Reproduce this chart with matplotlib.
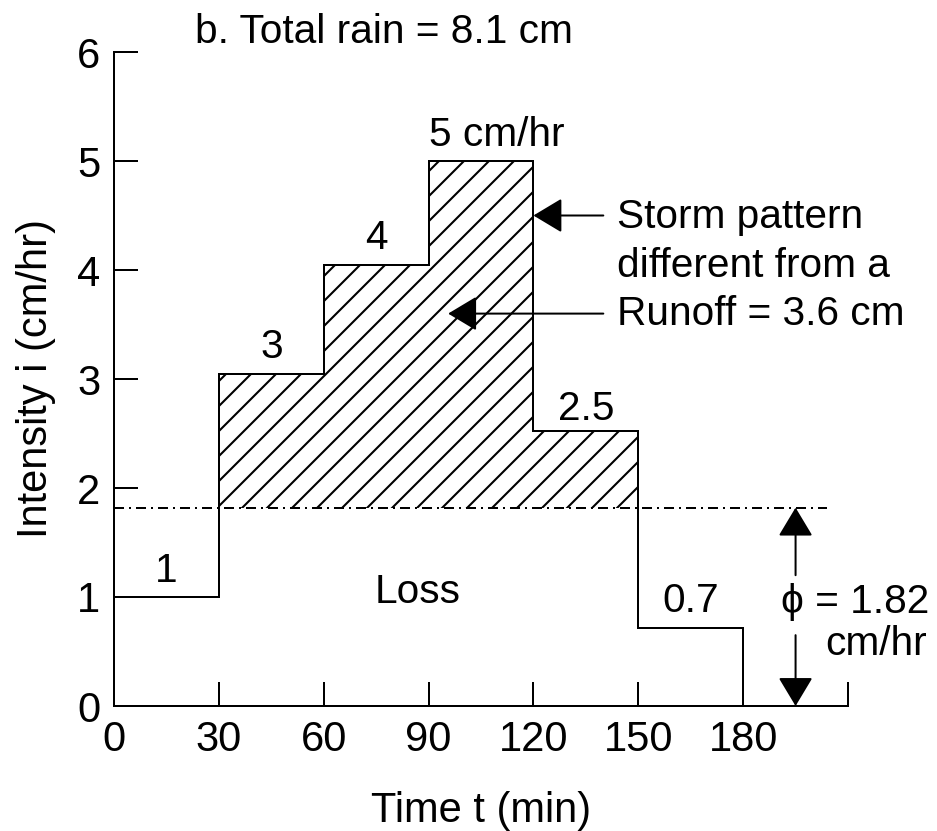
import matplotlib
matplotlib.use('Agg')
import matplotlib.pyplot as plt

plt.rcParams['font.family'] = ['Liberation Sans', 'DejaVu Sans']
plt.rcParams['hatch.linewidth'] = 1.0

# hyetograph (30 min blocks)
t_edges = [0, 30, 60, 90, 120, 150, 180]
intensity = [1.0, 3.05, 4.05, 5.0, 2.52, 0.72]
step_labels = ['1', '3', '4', '5 cm/hr', '2.5', '0.7']
phi = 1.82
total_rain = 8.1
runoff = 3.6

xticks = [0, 30, 60, 90, 120, 150, 180, 210]
xtick_labels = ['0', '30', '60', '90', '120', '150', '180', '']
yticks = [0, 1, 2, 3, 4, 5, 6]

lw = 0.96
fs = 19.5

fig = plt.figure(figsize=(937/150, 831/150), dpi=150)
ax = fig.add_axes([114/937, 125/831, 734/937, 654/831])

ax.stairs(intensity, t_edges, baseline=0, color='k', lw=lw)

# hatched part above phi index
above = [i for i, v in enumerate(intensity) if v > phi]
xs = t_edges[above[0]:above[-1] + 2]
ys = intensity[above[0]:above[-1] + 1] + [intensity[above[-1]]]
ax.fill_between(xs, phi, ys, step='post', facecolor='none', edgecolor='k',
                hatch='//', lw=0)

ax.plot([0, 204], [phi, phi], color='k', lw=lw, ls=(0, (5, 2.5, 1, 2.5)))

# labels on each block
dx = [0, 0, 0, -15, 0, 0]
has = ['center', 'center', 'center', 'left', 'center', 'center']
for i, lab in enumerate(step_labels):
    xm = (t_edges[i] + t_edges[i+1]) / 2 + dx[i]
    off = 0.1 if lab == '2.5' else 0.14
    ax.text(xm, intensity[i] + off, lab, ha=has[i], va='baseline', fontsize=fs)

ax.text(87, 0.945, 'Loss', ha='center', va='baseline', fontsize=fs)
ax.text(77.3, 6.083, f'b. Total rain = {total_rain} cm', ha='center',
        va='baseline', fontsize=fs)

arrow = dict(arrowstyle='-|>,head_length=0.6,head_width=0.36', color='k',
             lw=lw, shrinkA=0, shrinkB=0, mutation_scale=20)
ax.annotate('', xy=(120, 4.5), xytext=(140, 4.5), arrowprops=arrow)
ax.annotate('', xy=(95.6, runoff), xytext=(140, runoff), arrowprops=arrow)
storm_lines = ['Storm pattern', 'different from a', f'Runoff = {runoff} cm']
for k, s in enumerate(storm_lines):
    ax.text(144, 4.385 - 0.445 * k, s, ha='left', va='baseline', fontsize=fs)

# phi dimension arrow
ax.annotate('', xy=(195, phi), xytext=(195, 1.2), arrowprops=arrow)
ax.annotate('', xy=(195, 0), xytext=(195, 0.65), arrowprops=arrow)
ax.text(190.8, 0.853, f'\u03d5 = {phi}', ha='left', va='baseline', fontsize=fs)
ax.text(232.6, 0.468, 'cm/hr', ha='right', va='baseline', fontsize=fs)

ax.set_xlim(0, 210)
ax.set_ylim(0, 6)
ax.set_xticks(xticks)
ax.set_xticklabels(xtick_labels)
ax.set_yticks(yticks)
ax.spines['top'].set_visible(False)
ax.spines['right'].set_visible(False)
for sp in ['left', 'bottom']:
    ax.spines[sp].set_linewidth(lw)
ax.tick_params(direction='in', length=11.5, width=lw, pad=6.5, labelsize=20)
ax.set_xlabel('Time t (min)', fontsize=20, labelpad=15)
ax.set_ylabel('Intensity i (cm/hr)', fontsize=20, labelpad=10)

fig.savefig('out.png', dpi=150)
